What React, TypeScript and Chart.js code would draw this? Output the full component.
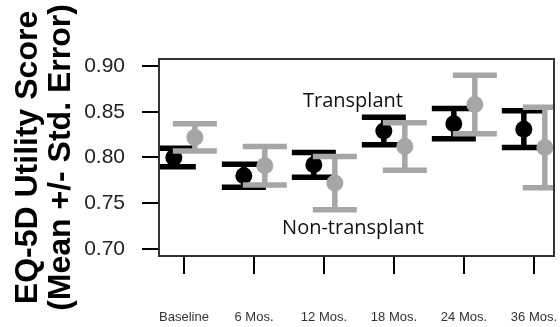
import React, { useEffect, useRef } from 'react';
import { Chart, registerables } from 'chart.js';

Chart.register(...registerables);

// ---- data ----
const categories = ['Baseline', '6 Mos.', '12 Mos.', '18 Mos.', '24 Mos.', '36 Mos.'];
const transplantMean = [0.800, 0.780, 0.792, 0.829, 0.837, 0.831];
const transplantSE = [0.010, 0.0125, 0.0135, 0.015, 0.0165, 0.020];
const nonTransplantMean = [0.822, 0.791, 0.772, 0.812, 0.858, 0.811];
const nonTransplantSE = [0.015, 0.021, 0.029, 0.026, 0.032, 0.044];
const yTickValues = [0.70, 0.75, 0.80, 0.85, 0.90];
const yTitle = ['EQ-5D Utility Score', '(Mean +/- Std. Error)'];
const seriesLabels = ['Transplant', 'Non-transplant'];

// ---- styles ----
const BLACK = '#000000';
const GRAY = '#a6a6a6';
const OFFSET_T = -0.145;
const OFFSET_N = 0.155;
const SANS = "'Liberation Sans', Arial, Helvetica, sans-serif";
const RIGHT_GAP = 6;

function buildSeries(mean: number[], se: number[], offset: number, color: string, baseOrder: number, label: string) {
  const pts = mean.map((m, i) => ({ x: i + offset, y: m }));
  const caps = mean.flatMap((m, i) => [
    { x: i + offset, y: m + se[i] },
    { x: i + offset, y: m - se[i] },
  ]);
  const stems = mean.flatMap((m, i) => [
    { x: i + offset, y: m - se[i] },
    { x: i + offset, y: m + se[i] },
    { x: i + offset, y: null as any },
  ]);
  return [
    {
      type: 'scatter', label: label + ' SE', data: stems, showLine: true, spanGaps: false,
      borderColor: color, borderWidth: 5.5, pointRadius: 0, pointHoverRadius: 0, order: baseOrder + 2, clip: 0,
    },
    {
      type: 'scatter', label: label + ' caps', data: caps, pointStyle: 'line', pointRadius: 22, pointHoverRadius: 22,
      pointBorderWidth: 5.5, pointBorderColor: color, borderColor: color, order: baseOrder + 1, clip: 0,
    },
    {
      type: 'scatter', label, data: pts, pointStyle: 'circle', pointRadius: 8.5, pointHoverRadius: 8.5,
      pointBackgroundColor: color, backgroundColor: color, pointBorderWidth: 0, borderWidth: 0, order: baseOrder,
    },
  ];
}

// keep the plot box right edge RIGHT_GAP px from the canvas edge
const areaPlugin = {
  id: 'areaPlugin',
  afterLayout(chart: any) {
    const targetRight = chart.width - RIGHT_GAP;
    const ca = chart.chartArea;
    if (Math.abs(ca.right - targetRight) > 0.5) {
      ca.right = targetRight;
      ca.width = targetRight - ca.left;
      const xs = chart.scales.x;
      xs.left = ca.left;
      xs.right = targetRight;
      xs.width = targetRight - ca.left;
      xs.configure();
    }
  },
};

const boxPlugin = {
  id: 'boxPlugin',
  afterDatasetsDraw(chart: any) {
    const { ctx, chartArea } = chart;
    ctx.save();
    ctx.strokeStyle = '#333333';
    ctx.lineWidth = 2;
    ctx.strokeRect(chartArea.left, chartArea.top, chartArea.right - chartArea.left, chartArea.bottom - chartArea.top);
    ctx.restore();
  },
};

const labelPlugin = {
  id: 'labelPlugin',
  afterDraw(chart: any) {
    const { ctx, scales } = chart;
    const items = [
      { text: seriesLabels[0], x: 2.414, y: 0.8617 },
      { text: seriesLabels[1], x: 2.414, y: 0.723 },
    ];
    ctx.save();
    ctx.fillStyle = '#111111';
    ctx.font = "20px 'Open Sans', sans-serif";
    ctx.textAlign = 'center';
    ctx.textBaseline = 'middle';
    items.forEach((it) => {
      ctx.fillText(it.text, scales.x.getPixelForValue(it.x), scales.y.getPixelForValue(it.y));
    });
    ctx.restore();
  },
};

export default function App() {
  const ref = useRef<HTMLCanvasElement | null>(null);

  useEffect(() => {
    if (!ref.current) return;
    const datasets = [
      ...buildSeries(transplantMean, transplantSE, OFFSET_T, BLACK, 4, seriesLabels[0]),
      ...buildSeries(nonTransplantMean, nonTransplantSE, OFFSET_N, GRAY, 1, seriesLabels[1]),
    ];
    const chart = new Chart(ref.current, {
      type: 'scatter',
      data: { datasets: datasets as any },
      options: {
        responsive: false,
        maintainAspectRatio: false,
        devicePixelRatio: 1,
        animation: false,
        layout: { padding: { top: 59, right: RIGHT_GAP, left: 0, bottom: 0 } },
        plugins: { legend: { display: false }, tooltip: { enabled: false } },
        scales: {
          x: {
            type: 'linear',
            min: -0.357,
            max: 5.286,
            afterBuildTicks: (s: any) => { s.ticks = categories.map((_, i) => ({ value: i })); },
            afterFit: (s: any) => { s.height = 71; s.paddingLeft = 0; s.paddingRight = 0; },
            ticks: {
              callback: (v: any) => categories[Math.round(Number(v))] ?? '',
              font: { family: SANS, size: 13, lineHeight: '86px' },
              color: '#333333',
              padding: 0,
              maxRotation: 0,
              autoSkip: false,
            },
            grid: { drawOnChartArea: false, drawTicks: true, tickLength: 18, color: '#000000', lineWidth: 2 },
            border: { display: false },
          },
          y: {
            type: 'linear',
            min: 0.6923,
            max: 0.9077,
            afterBuildTicks: (s: any) => { s.ticks = yTickValues.map((v) => ({ value: v })); },
            afterFit: (s: any) => { s.width = 159; },
            ticks: {
              callback: (v: any) => Number(v).toFixed(2),
              font: { family: SANS, size: 21 },
              color: '#222222',
              padding: 17,
            },
            grid: { drawOnChartArea: false, drawTicks: true, tickLength: 17, color: '#000000', lineWidth: 2 },
            border: { display: false },
            title: {
              display: true,
              text: yTitle,
              font: { family: SANS, size: 32, weight: 'bold', lineHeight: 1.03 },
              color: '#000000',
              padding: { top: 12, bottom: 0 },
            },
          },
        },
      } as any,
      plugins: [areaPlugin, boxPlugin, labelPlugin],
    });
    return () => chart.destroy();
  }, []);

  return (
    <div style={{ position: 'fixed', left: 0, top: 0, width: 560, height: 327, background: '#ffffff' }}>
      <canvas ref={ref} width={560} height={327} style={{ display: 'block', width: 560, height: 327 }} />
    </div>
  );
}
